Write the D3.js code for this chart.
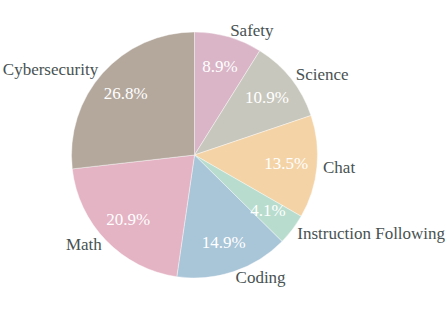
<!DOCTYPE html>
<html>
<head>
<meta charset="utf-8" />
<script src="https://d3js.org/d3.v7.min.js"></script>
<style>
  body { margin: 0; background: white; }
  text { font-family: "Palatino Linotype", Palatino, "Liberation Serif", serif; }
</style>
</head>
<body>
<svg id="pie"></svg>
<script>
var categories = ["Safety", "Science", "Chat", "Instruction Following", "Coding", "Math", "Cybersecurity"];
var values = [8.9, 10.9, 13.5, 4.1, 14.9, 20.9, 26.8];
var colors = ["#d9b5c7", "#c8c7bd", "#f4d3a6", "#b8dccd", "#a9c5d8", "#e4b3c4", "#b4a89d"];

var width = 448, height = 311;
var cx = 194.5, cy = 155, r = 123;

var svg = d3.select("#pie").attr("width", width).attr("height", height);
var g = svg.append("g").attr("transform", "translate(" + cx + "," + cy + ")");

var pie = d3.pie().sort(null).value(function(d) { return d; });
var arcs = pie(values);
var arc = d3.arc().innerRadius(0).outerRadius(r);

g.selectAll("path").data(arcs).enter().append("path")
  .attr("d", arc)
  .attr("fill", function(d, i) { return colors[i]; })
  .attr("stroke", "white")
  .attr("stroke-width", 0.4);

// position along the slice's middle angle, k = fraction of radius
function pos(d, k) {
  var a = (d.startAngle + d.endAngle) / 2;
  return [Math.sin(a) * r * k, -Math.cos(a) * r * k];
}

g.selectAll(".pct").data(arcs).enter().append("text")
  .attr("class", "pct")
  .attr("x", function(d) { return pos(d, 0.75)[0]; })
  .attr("y", function(d) { return pos(d, 0.75)[1]; })
  .attr("text-anchor", "middle")
  .attr("dominant-baseline", "central")
  .attr("fill", "white")
  .attr("font-size", 17)
  .text(function(d) { return d.value.toFixed(1) + "%"; });

g.selectAll(".lab").data(arcs).enter().append("text")
  .attr("class", "lab")
  .attr("x", function(d) { return pos(d, 1.05)[0]; })
  .attr("y", function(d) { return pos(d, 1.05)[1]; })
  .attr("text-anchor", function(d) { return pos(d, 1)[0] > 0 ? "start" : "end"; })
  .attr("dominant-baseline", "central")
  .attr("fill", "#485252")
  .attr("font-size", 17)
  .text(function(d, i) { return categories[i]; });
</script>
</body>
</html>
